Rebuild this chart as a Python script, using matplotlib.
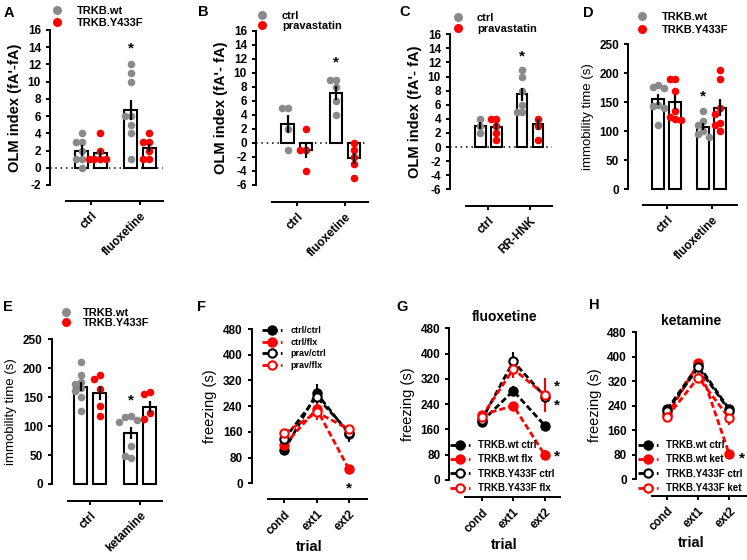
import numpy as np
import matplotlib
matplotlib.use('Agg')
import matplotlib.pyplot as plt
from matplotlib.lines import Line2D

plt.rcParams.update({
    "font.family": ["Liberation Sans", "DejaVu Sans"],
    "font.weight": "bold",
    "axes.linewidth": 1.4,
    "axes.unicode_minus": False,
    "xtick.major.width": 1.4,
    "ytick.major.width": 1.4,
    "xtick.major.size": 3,
    "ytick.major.size": 3,
    "xtick.labelsize": 8.5,
    "ytick.labelsize": 8.5,
    "axes.labelweight": "bold",
})

W, H = 747, 560
GRAY = '#8a8a8a'
RED = '#ff0000'

# ---- data ----
# A: OLM index, TRKB.wt / TRKB.Y433F
a_groups = ['ctrl', 'fluoxetine']
a_wt = [[4, 3, 3, 2, 1, 1, 0], [12, 11, 10, 6, 6, 5, 4, 1]]
a_mut = [[4, 2, 1, 1, 1, 1], [4, 3, 3, 2, 1, 1]]
a_mean = [[2.0, 1.7], [6.7, 2.3]]
a_sem = [[0.6, 0.4], [1.2, 0.5]]

# B: OLM index, ctrl / pravastatin
b_groups = ['ctrl', 'fluoxetine']
b_ctrl = [[5, 5, 2, -1], [9, 9, 8, 6, 4]]
b_prav = [[2, -1, -1, -4], [0, -1, -2, -3, -5]]
b_mean = [[2.75, -1.0], [7.1, -2.2]]
b_sem = [[1.3, 1.1], [1.0, 0.8]]

# C: OLM index, ctrl / pravastatin
c_groups = ['ctrl', 'RR-HNK']
c_ctrl = [[4, 3, 2], [11, 10, 8, 6, 5, 5]]
c_prav = [[4, 4, 3, 2, 1], [4, 3, 1]]
c_mean = [[3.0, 2.9], [7.5, 3.2]]
c_sem = [[0.5, 0.5], [0.9, 0.8]]

# D: immobility time, fluoxetine
d_groups = ['ctrl', 'fluoxetine']
d_wt = [[180, 177, 175, 145, 143, 140, 110], [135, 118, 110, 100, 95, 90]]
d_mut = [[190, 190, 170, 135, 125, 122, 120], [205, 190, 140, 130, 115, 110, 100]]
d_mean = [[155, 151], [108, 141]]
d_sem = [[10, 12], [6, 15]]

# E: immobility time, ketamine
e_groups = ['ctrl', 'ketamine']
e_wt = [[210, 188, 177, 173, 165, 160, 150, 126], [117, 115, 110, 107, 66, 45, 48]]
e_mut = [[188, 182, 164, 135, 117], [159, 156, 122, 113]]
e_mean = [[168, 157], [88, 133]]
e_sem = [[8, 12], [10, 10]]

# F-H: freezing over trials
trials = ['cond', 'ext1', 'ext2']

f_labels = ['ctrl/ctrl', 'ctrl/flx', 'prav/ctrl', 'prav/flx']
f_ctrl_ctrl = [103, 280, 153]
f_ctrl_flx = [119, 231, 43]
f_prav_ctrl = [138, 269, 158]
f_prav_flx = [155, 221, 168]
f_ctrl_ctrl_sem = [10, 28, 24]
f_ctrl_flx_sem = [10, 30, 12]
f_prav_ctrl_sem = [12, 20, 15]
f_prav_flx_sem = [10, 25, 12]

g_labels = ['TRKB.wt ctrl', 'TRKB.wt flx', 'TRKB.Y433F ctrl', 'TRKB.Y433F flx']
g_wt_ctrl = [185, 282, 172]
g_wt_flx = [206, 235, 79]
g_mut_ctrl = [190, 375, 264]
g_mut_flx = [200, 351, 269]
g_wt_ctrl_sem = [15, 15, 10]
g_wt_flx_sem = [10, 12, 15]
g_mut_ctrl_sem = [12, 30, 15]
g_mut_flx_sem = [12, 28, 53]

h_labels = ['TRKB.wt ctrl', 'TRKB.wt ket', 'TRKB.Y433F ctrl', 'TRKB.Y433F ket']
h_wt_ctrl = [228, 373, 228]
h_wt_ket = [209, 378, 81]
h_mut_ctrl = [224, 365, 224]
h_mut_ket = [204, 332, 199]
h_wt_ctrl_sem = [12, 12, 12]
h_wt_ket_sem = [10, 12, 15]
h_mut_ctrl_sem = [10, 12, 12]
h_mut_ket_sem = [12, 15, 22]

fig = plt.figure(figsize=(W / 100, H / 100), dpi=100)


def px_axes(left, right, top, bottom, xline_y, xline_x0, tick_px):
    ax = fig.add_axes([left / W, 1 - bottom / H, (right - left) / W, (bottom - top) / H])
    step = tick_px[1] - tick_px[0]
    ax.set_xlim((left - tick_px[0]) / step, (right - tick_px[0]) / step)
    for s in ['top', 'right']:
        ax.spines[s].set_visible(False)
    ax.spines['bottom'].set_position(('outward', (xline_y - bottom) * 0.72))
    ax.spines['bottom'].set_bounds((xline_x0 - tick_px[0]) / step, (right - tick_px[0]) / step)
    ax.patch.set_alpha(0)
    return ax


def swarm(vals, center, step, tol):
    placed, xs = [], []
    for v in vals:
        for k in [0, -1, 1, -2, 2, -3, 3]:
            x = center + k * step
            if all(abs(x - px) > step * 0.9 or abs(v - pv) > tol for px, pv in placed):
                break
        placed.append((x, v))
        xs.append(x)
    return xs


def dot_legend(labels, xdot, y1, y2, xtext, fs=8):
    fpx = fs * 100 / 72
    hl = 0.8
    handles = [Line2D([], [], ls='', marker='o', ms=6.5, color=GRAY, mec='none'),
               Line2D([], [], ls='', marker='o', ms=6.5, color=RED, mec='none')]
    fig.legend(handles, labels, loc='center left',
               bbox_to_anchor=((xdot - hl * fpx / 2) / W, 1 - (y1 + y2) / 2 / H),
               frameon=False, prop={'size': fs, 'weight': 'bold'}, handlelength=hl,
               handletextpad=(xtext - xdot - hl * fpx / 2) / fpx,
               labelspacing=(y2 - y1) / fpx - 1.05, borderpad=0, borderaxespad=0)


def bar_panel(ax, groups, pts1, pts2, means, sems, ylim, yticks, tol, step):
    off, bw = 0.19, 0.26
    for g in range(len(groups)):
        for k, (pts, col) in enumerate([(pts1[g], GRAY), (pts2[g], RED)]):
            xc = g + (2 * k - 1) * off
            ax.bar(xc, means[g][k], width=bw, color='white', edgecolor='black',
                   lw=1.5, zorder=2, clip_on=False)
            ax.scatter(swarm(pts, xc, step, tol), pts, s=30, color=col, zorder=3,
                       linewidths=0, clip_on=False)
            ax.errorbar(xc, means[g][k], yerr=sems[g][k], fmt='none', ecolor='black',
                        elinewidth=1.6, capsize=0, zorder=4)
    ax.set_ylim(*ylim)
    ax.set_yticks(yticks)
    ax.set_xticks(range(len(groups)))
    ax.set_xticklabels(groups, rotation=45, ha='right', rotation_mode='anchor')


def line_panel(ax, series, sems, labels, styles):
    handles = []
    for vals, err, (col, filled) in zip(series, sems, styles):
        ax.errorbar(range(len(trials)), vals, yerr=err, fmt='none', ecolor=col,
                    elinewidth=1.5, capsize=0, zorder=2)
        ln, = ax.plot(range(len(trials)), vals, color=col, lw=2, ls=(0, (2.2, 1.1)),
                      marker='o', ms=6, mfc=col if filled else 'white', mec=col, mew=1.5,
                      zorder=3, clip_on=False)
        handles.append(ln)
    ax.set_ylim(0, 480)
    ax.set_yticks(range(0, 481, 80))
    ax.set_xticks(range(len(trials)))
    ax.set_xticklabels(trials, rotation=45, ha='right', rotation_mode='anchor')
    ax.set_xlabel('trial', fontsize=10.5, labelpad=2)
    ax.set_ylabel('freezing (s)', fontsize=10.5, fontweight='normal')
    return handles


styles = [('black', True), (RED, True), ('black', False), (RED, False)]

# ---- A ----
ax = px_axes(50, 163, 30, 185, 201, 66, [91, 140])
bar_panel(ax, a_groups, a_wt, a_mut, a_mean, a_sem, (-2, 16), range(-2, 17, 2), 0.75, 0.12)
ax.axhline(0, color='black', lw=1.1, ls=(0, (1, 2.5)), zorder=1)
ax.set_ylabel("OLM index (fA'-fA)", fontsize=10.5)
ax.text(1 - 0.19, 13.9, '*', ha='center', va='center', fontsize=11)
dot_legend(['TRKB.wt', 'TRKB.Y433F'], 57, 10, 24, 77)

# ---- B ----
ax = px_axes(256, 368, 30.7, 185, 201.7, 272, [296.7, 345])
bar_panel(ax, b_groups, b_ctrl, b_prav, b_mean, b_sem, (-6, 16), range(-6, 17, 2), 0.85, 0.12)
ax.axhline(0, color='black', lw=1.1, ls=(0, (1, 2.5)), zorder=1)
ax.set_ylabel("OLM index (fA'- fA)", fontsize=10.5)
ax.text(1 - 0.19, 11.4, '*', ha='center', va='center', fontsize=11)
dot_legend(['ctrl', 'pravastatin'], 262, 15, 27, 282)

# ---- C ----
ax = px_axes(450, 552, 34.3, 189.3, 206, 466, [488.3, 530])
bar_panel(ax, c_groups, c_ctrl, c_prav, c_mean, c_sem, (-6, 16), range(-6, 17, 2), 0.85, 0.13)
ax.axhline(0, color='black', lw=1.1, ls=(0, (1, 2.5)), zorder=1)
ax.set_ylabel("OLM index (fA'- fA)", fontsize=10.5)
ax.text(1 - 0.19, 12.8, '*', ha='center', va='center', fontsize=11)
dot_legend(['ctrl', 'pravastatin'], 457.7, 17, 30, 477)

# ---- D ----
ax = px_axes(628.3, 736.7, 44.3, 189.3, 204.7, 643, [666.7, 711.7])
bar_panel(ax, d_groups, d_wt, d_mut, d_mean, d_sem, (0, 250), range(0, 251, 50), 10, 0.12)
ax.set_ylabel('immobility time (s)', fontsize=9.5, fontweight='normal')
ax.text(1 - 0.19, 160, '*', ha='center', va='center', fontsize=11)
dot_legend(['TRKB.wt', 'TRKB.Y433F'], 642, 16, 31, 662)

# ---- E ----
ax = px_axes(51.7, 161.7, 339.3, 484, 500.7, 68.3, [90, 140])
bar_panel(ax, e_groups, e_wt, e_mut, e_mean, e_sem, (0, 250), range(0, 251, 50), 10, 0.12)
ax.set_ylabel('immobility time (s)', fontsize=9.5, fontweight='normal')
ax.text(1 - 0.19, 145, '*', ha='center', va='center', fontsize=11)
dot_legend(['TRKB.wt', 'TRKB.Y433F'], 65.7, 312, 324, 83)

# ---- F ----
ax = px_axes(251.7, 366.7, 329, 483.3, 499.3, 267.7, [284.3, 316.7])
hs = line_panel(ax, [f_ctrl_ctrl, f_ctrl_flx, f_prav_ctrl, f_prav_flx],
                [f_ctrl_ctrl_sem, f_ctrl_flx_sem, f_prav_ctrl_sem, f_prav_flx_sem],
                f_labels, styles)
ax.text(2, -15, '*', ha='center', va='center', fontsize=11, clip_on=False)
fig.legend(hs, f_labels, loc='upper left', bbox_to_anchor=(262 / W, 1 - 326 / H),
           frameon=False, prop={'size': 6.5, 'weight': 'bold'}, handlelength=2.2,
           handletextpad=1.0, labelspacing=0.3, borderpad=0, borderaxespad=0)

# ---- G ----
ax = px_axes(449.3, 560, 328.3, 480, 497.3, 465, [481.7, 513.3])
hs = line_panel(ax, [g_wt_ctrl, g_wt_flx, g_mut_ctrl, g_mut_flx],
                [g_wt_ctrl_sem, g_wt_flx_sem, g_mut_ctrl_sem, g_mut_flx_sem],
                g_labels, styles)
ax.set_title('fluoxetine', fontsize=10, fontweight='bold', pad=5)
for yy in [295, 237, 74]:
    ax.text(2.37, yy, '*', ha='center', va='center', fontsize=11, clip_on=False)
fig.legend(hs, g_labels, loc='upper left', bbox_to_anchor=(450 / W, 1 - 440 / H),
           frameon=False, prop={'size': 7, 'weight': 'bold'}, handlelength=2.1,
           handletextpad=0.8, labelspacing=0.45, borderpad=0, borderaxespad=0)

# ---- H ----
ax = px_axes(636, 746.7, 332.3, 479, 496, 651.7, [667.3, 698.3])
hs = line_panel(ax, [h_wt_ctrl, h_wt_ket, h_mut_ctrl, h_mut_ket],
                [h_wt_ctrl_sem, h_wt_ket_sem, h_mut_ctrl_sem, h_mut_ket_sem],
                h_labels, styles)
ax.set_title('ketamine', fontsize=10, fontweight='bold', pad=5)
ax.text(2.41, 67.6, '*', ha='center', va='center', fontsize=11, clip_on=False)
fig.legend(hs, h_labels, loc='upper left', bbox_to_anchor=(637.7 / W, 1 - 440 / H),
           frameon=False, prop={'size': 7, 'weight': 'bold'}, handlelength=2.1,
           handletextpad=0.8, labelspacing=0.45, borderpad=0, borderaxespad=0)

# panel letters
for letter, (lx, ly) in zip('ABCDEFGH', [(9, 13), (203, 12), (405, 12), (588, 13),
                                         (8, 307), (202, 307), (402, 307), (594, 305)]):
    fig.text(lx / W, 1 - ly / H, letter, ha='center', va='center', fontsize=10.5,
             fontweight='bold')

fig.savefig('out.png', dpi=100, facecolor='white')
